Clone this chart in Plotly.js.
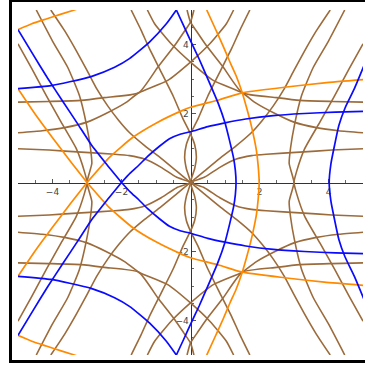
<!DOCTYPE html>
<html>
<head>
<meta charset="utf-8">
<script src="https://cdn.plot.ly/plotly-2.35.2.min.js"></script>
<style>
  html, body { margin: 0; padding: 0; background: #fff; overflow: hidden; }
  #wrap { position: relative; width: 365px; height: 366px; overflow: hidden; background: #fff; }
  #chart { position: absolute; left: 0; top: 0; width: 365px; height: 366px; }
  #frame { position: absolute; left: 9px; top: -1px; width: 370px; height: 364px;
           border: 3px solid #000; border-right: none; box-sizing: border-box; pointer-events: none; }
</style>
</head>
<body>
<div id="wrap"><div id="chart"></div><div id="frame"></div></div>
<script>
// ---- curve data (x, y in plot units) ----

// orange
const o1TopX = [-5.0, -4.6, -4.18, -3.75, -3.3];
const o1TopY = [4.43, 4.6, 4.74, 4.88, 5.02];
const o1BotX = [-5.0, -4.6, -4.18, -3.75, -3.3];
const o1BotY = [-4.43, -4.6, -4.74, -4.88, -5.02];
const o2UpX = [-5.0, -4.5, -4.0, -3.5, -3.0];
const o2UpY = [2.72, 1.98, 1.3, 0.64, 0];
const o2LoX = [-5.0, -4.5, -4.0, -3.5, -3.0];
const o2LoY = [-2.72, -1.98, -1.3, -0.64, 0];
const o3UpX = [-3.0, -2.35, -1.67, -1.0, -0.23, 0.0, 0.84, 1.5, 2.72, 3.88, 5.0];
const o3UpY = [0, 0.73, 1.31, 1.72, 2.09, 2.18, 2.4, 2.6, 2.76, 2.89, 2.98];
const o3LoX = [-3.0, -2.35, -1.67, -1.0, -0.23, 0.0, 0.84, 1.5, 2.72, 3.88, 5.0];
const o3LoY = [0, -0.73, -1.31, -1.72, -2.09, -2.18, -2.4, -2.6, -2.76, -2.89, -2.98];
const o4X = [0.47, 0.7, 0.94, 1.14, 1.32, 1.5, 1.63, 1.75, 1.84, 1.91, 1.96, 1.99,
             1.96, 1.91, 1.84, 1.75, 1.63, 1.5, 1.32, 1.14, 0.94, 0.7, 0.47];
const o4Y = [5.0, 4.5, 3.97, 3.5, 3.1, 2.6, 2.15, 1.7, 1.3, 0.93, 0.5, 0,
             -0.5, -0.93, -1.3, -1.7, -2.15, -2.6, -3.1, -3.5, -3.97, -4.5, -5.0];

// blue
const b1UpX = [-5.0, -4.57, -4.14, -3.7, -3.27, -2.88, -2.45, -2.0];
const b1UpY = [4.43, 3.72, 3.02, 2.35, 1.7, 1.1, 0.55, 0];
const b1LoX = [-5.0, -4.57, -4.14, -3.7, -3.27, -2.88, -2.45, -2.0];
const b1LoY = [-4.43, -3.72, -3.02, -2.35, -1.7, -1.1, -0.55, 0];
const b2UpX = [-2.0, -1.75, -1.5, -1.25, -0.9, -0.61, -0.3, 0.0, 0.5, 1.0, 1.6, 2.4, 3.3, 4.2, 5.0];
const b2UpY = [0, 0.27, 0.5, 0.75, 1.05, 1.27, 1.4, 1.47, 1.62, 1.73, 1.84, 1.94, 2.0, 2.04, 2.06];
const b2LoX = [-2.0, -1.75, -1.5, -1.25, -0.9, -0.61, -0.3, 0.0, 0.5, 1.0, 1.6, 2.4, 3.3, 4.2, 5.0];
const b2LoY = [0, -0.27, -0.5, -0.75, -1.05, -1.27, -1.4, -1.47, -1.62, -1.73, -1.84, -1.94, -2.0, -2.04, -2.06];
const b3X = [-0.41, -0.2, 0.02, 0.25, 0.46, 0.79, 1.0, 1.13, 1.25, 1.3, 1.32,
             1.3, 1.25, 1.13, 1.0, 0.79, 0.46, 0.25, 0.02, -0.2, -0.41];
const b3Y = [5.0, 4.55, 4.07, 3.58, 3.1, 2.33, 1.73, 1.22, 0.7, 0.35, 0,
             -0.35, -0.7, -1.22, -1.73, -2.33, -3.1, -3.58, -4.07, -4.55, -5.0];
const b4X = [5.03, 4.75, 4.48, 4.3, 4.18, 4.07, 4.02, 4.07, 4.18, 4.3, 4.48, 4.75, 5.03];
const b4Y = [3.39, 2.72, 2.16, 1.65, 1.1, 0.54, 0, -0.54, -1.1, -1.65, -2.16, -2.72, -3.39];
const b5UpX = [-5.0, -4.04, -3.5, -2.88, -2.2, -1.77, -1.19, -0.7, -0.41];
const b5UpY = [2.72, 2.81, 2.92, 3.07, 3.34, 3.59, 4.07, 4.6, 5.0];
const b5LoX = [-5.0, -4.04, -3.5, -2.88, -2.2, -1.77, -1.19, -0.7, -0.41];
const b5LoY = [-2.72, -2.81, -2.92, -3.07, -3.34, -3.59, -4.07, -4.6, -5.0];

// brown
const brALX = [-5.0, -4.6, -4.18, -3.75, -3.31, -3.07, -3.0, -3.07, -3.31, -3.75, -4.18, -4.6, -5.0];
const brALY = [4.02, 3.3, 2.52, 1.75, 0.98, 0.3, 0, -0.3, -0.98, -1.75, -2.52, -3.3, -4.02];
const brARX = [5.0, 4.6, 4.18, 3.75, 3.31, 3.07, 3.0, 3.07, 3.31, 3.75, 4.18, 4.6, 5.0];
const brARY = [4.02, 3.3, 2.52, 1.75, 0.98, 0.3, 0, -0.3, -0.98, -1.75, -2.52, -3.3, -4.02];
const brBLX = [-4.47, -4.0, -3.56, -3.22, -3.01, -2.9, -2.86, -3.0, -2.86, -2.9, -3.01, -3.22, -3.56, -4.0, -4.47];
const brBLY = [5.0, 4.1, 3.34, 2.52, 1.65, 1.0, 0.55, 0, -0.55, -1.0, -1.65, -2.52, -3.34, -4.1, -5.0];
const brBRX = [4.47, 4.0, 3.56, 3.22, 3.01, 2.9, 2.86, 3.0, 2.86, 2.9, 3.01, 3.22, 3.56, 4.0, 4.47];
const brBRY = [5.0, 4.1, 3.34, 2.52, 1.65, 1.0, 0.55, 0, -0.55, -1.0, -1.65, -2.52, -3.34, -4.1, -5.0];
const brC1X = [-4.05, -3.65, -3.3, -3.0, -2.72, -2.4, -2.08, -1.77, -1.33, -0.85, -0.4, 0,
               0.4, 0.85, 1.33, 1.77, 2.08, 2.4, 2.72, 3.0, 3.3, 3.65, 4.05];
const brC1Y = [5.0, 4.4, 3.8, 3.25, 2.72, 2.22, 1.8, 1.45, 1.07, 0.7, 0.33, 0,
               -0.33, -0.7, -1.07, -1.45, -1.8, -2.22, -2.72, -3.25, -3.8, -4.4, -5.0];
const brC2X = [4.05, 3.65, 3.3, 3.0, 2.72, 2.4, 2.08, 1.77, 1.33, 0.85, 0.4, 0,
               -0.4, -0.85, -1.33, -1.77, -2.08, -2.4, -2.72, -3.0, -3.3, -3.65, -4.05];
const brC2Y = [5.0, 4.4, 3.8, 3.25, 2.72, 2.22, 1.8, 1.45, 1.07, 0.7, 0.33, 0,
               -0.33, -0.7, -1.07, -1.45, -1.8, -2.22, -2.72, -3.25, -3.8, -4.4, -5.0];
const brRLX = [-5.0, -4.1, -3.17, -2.2, -1.77, -1.33, -0.85, -0.4, 0, -0.4, -0.85, -1.33, -1.77, -2.2, -3.17, -4.1, -5.0];
const brRLY = [0.98, 0.94, 0.88, 0.82, 0.78, 0.68, 0.44, 0.15, 0, -0.15, -0.44, -0.68, -0.78, -0.82, -0.88, -0.94, -0.98];
const brRRX = [5.0, 4.1, 3.17, 2.2, 1.77, 1.33, 0.85, 0.4, 0, 0.4, 0.85, 1.33, 1.77, 2.2, 3.17, 4.1, 5.0];
const brRRY = [0.98, 0.94, 0.88, 0.82, 0.78, 0.68, 0.44, 0.15, 0, -0.15, -0.44, -0.68, -0.78, -0.82, -0.88, -0.94, -0.98];
const brL1X = [-1.72, -1.43, -1.2, -0.9, -0.5, -0.22, 0, 0.12, 0.17, 0.12, 0,
               0.12, 0.17, 0.12, 0, -0.22, -0.5, -0.9, -1.2, -1.43, -1.72];
const brL1Y = [-5.0, -4.41, -3.9, -3.3, -2.5, -1.85, -1.41, -1.1, -0.73, -0.4, 0,
               0.4, 0.73, 1.1, 1.41, 1.85, 2.5, 3.3, 3.9, 4.41, 5.0];
const brL2X = [1.72, 1.43, 1.2, 0.9, 0.5, 0.22, 0, -0.12, -0.17, -0.12, 0,
               -0.12, -0.17, -0.12, 0, 0.22, 0.5, 0.9, 1.2, 1.43, 1.72];
const brL2Y = [-5.0, -4.41, -3.9, -3.3, -2.5, -1.85, -1.41, -1.1, -0.73, -0.4, 0,
               0.4, 0.73, 1.1, 1.41, 1.85, 2.5, 3.3, 3.9, 4.41, 5.0];
const brPULX = [-5.0, -4.1, -3.17, -2.5, -1.5, -0.95, -0.46, -0.2, 0, 0.1];
const brPULY = [2.33, 2.35, 2.38, 2.46, 2.6, 3.34, 3.97, 4.35, 4.65, 5.0];
const brPURX = [5.0, 4.1, 3.17, 2.5, 1.5, 0.95, 0.46, 0.2, 0, -0.1];
const brPURY = [2.33, 2.35, 2.38, 2.46, 2.6, 3.34, 3.97, 4.35, 4.65, 5.0];
const brPLLX = [-5.0, -4.1, -3.17, -2.5, -1.5, -0.95, -0.46, -0.2, 0, 0.1];
const brPLLY = [-2.33, -2.35, -2.38, -2.46, -2.6, -3.34, -3.97, -4.35, -4.65, -5.0];
const brPLRX = [5.0, 4.1, 3.17, 2.5, 1.5, 0.95, 0.46, 0.2, 0, -0.1];
const brPLRY = [-2.33, -2.35, -2.38, -2.46, -2.6, -3.34, -3.97, -4.35, -4.65, -5.0];
const brQULX = [-5.0, -4.3, -3.65, -3.0, -2.45, -1.9, -1.5, -0.66, 0, 0.56, 1.04, 1.25];
const brQULY = [1.44, 1.5, 1.59, 1.75, 2.0, 2.3, 2.6, 2.96, 3.49, 4.02, 4.6, 5.0];
const brQURX = [5.0, 4.3, 3.65, 3.0, 2.45, 1.9, 1.5, 0.66, 0, -0.56, -1.04, -1.25];
const brQURY = [1.44, 1.5, 1.59, 1.75, 2.0, 2.3, 2.6, 2.96, 3.49, 4.02, 4.6, 5.0];
const brQLLX = [-5.0, -4.3, -3.65, -3.0, -2.45, -1.9, -1.5, -0.66, 0, 0.56, 1.04, 1.25];
const brQLLY = [-1.44, -1.5, -1.59, -1.75, -2.0, -2.3, -2.6, -2.96, -3.49, -4.02, -4.6, -5.0];
const brQLRX = [5.0, 4.3, 3.65, 3.0, 2.45, 1.9, 1.5, 0.66, 0, -0.56, -1.04, -1.25];
const brQLRY = [-1.44, -1.5, -1.59, -1.75, -2.0, -2.3, -2.6, -2.96, -3.49, -4.02, -4.6, -5.0];

// axis ticks
const tickVals = [-4, -2, 2, 4];
const tickText = ['\u22124', '\u22122', '2', '4'];

const BROWN = '#9c6b3b', ORANGE = '#ff8a00', BLUE = '#0a0aff';

const brownSet = [
  [brALX, brALY], [brARX, brARY], [brBLX, brBLY], [brBRX, brBRY],
  [brC1X, brC1Y], [brC2X, brC2Y], [brRLX, brRLY], [brRRX, brRRY],
  [brL1X, brL1Y], [brL2X, brL2Y],
  [brPULX, brPULY], [brPURX, brPURY], [brPLLX, brPLLY], [brPLRX, brPLRY],
  [brQULX, brQULY], [brQURX, brQURY], [brQLLX, brQLLY], [brQLRX, brQLRY]
];
const orangeSet = [[o1TopX, o1TopY], [o1BotX, o1BotY], [o2UpX, o2UpY], [o2LoX, o2LoY],
                   [o3UpX, o3UpY], [o3LoX, o3LoY], [o4X, o4Y]];
const blueSet = [[b1UpX, b1UpY], [b1LoX, b1LoY], [b2UpX, b2UpY], [b2LoX, b2LoY],
                 [b3X, b3Y], [b4X, b4Y], [b5UpX, b5UpY], [b5LoX, b5LoY]];

const traces = [];
const addSet = (set, color, width) => set.forEach(([x, y]) => traces.push({
  x, y, type: 'scatter', mode: 'lines', hoverinfo: 'skip', showlegend: false,
  line: { color, width, shape: 'spline', smoothing: 0.5 }
}));
addSet(brownSet, BROWN, 1.6);
addSet(orangeSet, ORANGE, 1.7);
addSet(blueSet, BLUE, 1.7);

const axisCommon = {
  range: [-5, 5], anchor: 'free', position: 0.5,
  showgrid: false, zeroline: false, showline: true,
  linecolor: '#333', linewidth: 1.3, layer: 'below traces',
  ticks: 'inside', ticklen: 4, tickwidth: 1, tickcolor: '#555',
  tickmode: 'array', tickvals: tickVals, ticktext: tickText,
  minor: { tickmode: 'linear', tick0: 0, dtick: 0.5, ticks: 'inside', ticklen: 2.5, tickwidth: 1, tickcolor: '#666' },
  tickfont: { family: 'DejaVu Sans, sans-serif', size: 9, color: '#444' },
  fixedrange: true, automargin: false
};

// plot area ends at x = 363; keep the page narrower than the window so nothing is drawn at the right edge
const layout = {
  width: 365, height: 366,
  margin: { l: 18, r: 2, t: 10, b: 11, pad: 0 },
  paper_bgcolor: 'rgba(0,0,0,0)', plot_bgcolor: 'rgba(0,0,0,0)',
  showlegend: false,
  xaxis: Object.assign({}, axisCommon),
  yaxis: Object.assign({}, axisCommon)
};

Plotly.newPlot('chart', traces, layout, { displayModeBar: false, staticPlot: true });
</script>
</body>
</html>
